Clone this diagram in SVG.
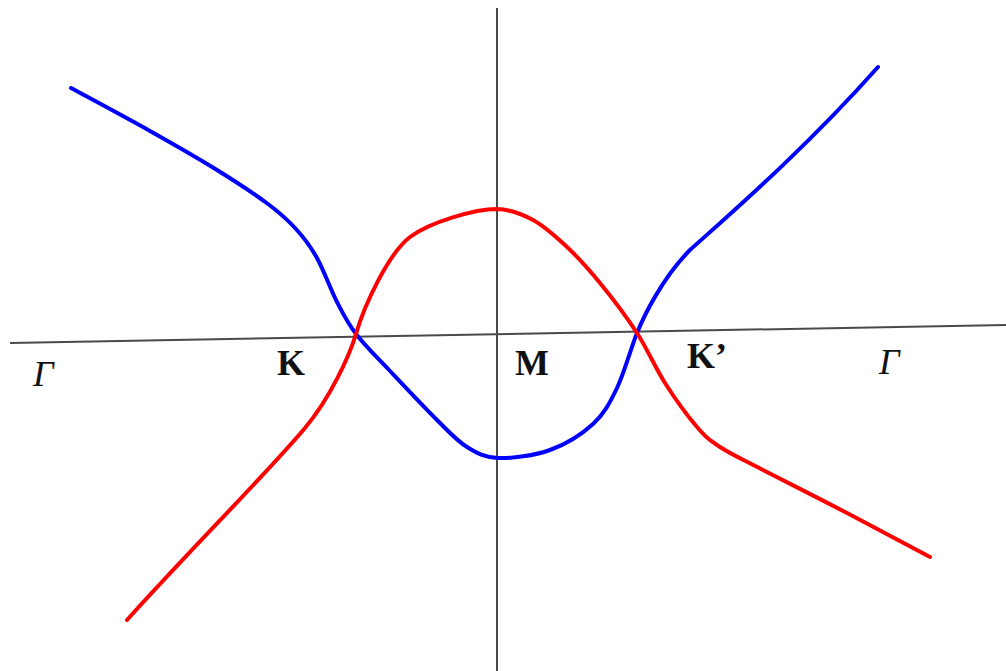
<svg xmlns="http://www.w3.org/2000/svg" width="1006" height="671" viewBox="0 0 1006 671">
<style>
.axis{stroke:#4a4a4a;stroke-width:2;fill:none}
.band{fill:none;stroke-width:4;stroke-linecap:round;stroke-linejoin:round}
.blue{stroke:#0000ff}
.red{stroke:#ff0000}
.lbl{font-family:"Liberation Serif","Times New Roman",serif;font-size:36px;fill:#111}
.b{font-weight:bold}
.i{font-style:italic}
</style>
<rect width="1006" height="671" fill="#ffffff"/>
<g id="axes">
<line class="axis" x1="10" y1="343" x2="1006" y2="325"/>
<line class="axis" x1="497" y1="8" x2="497" y2="671"/>
</g>
<g id="bands">
<path id="band-blue" class="band blue" d="M71,88 C84.2,95.2 125.7,117.3 150,131 C174.3,144.7 197.3,157.8 217,170 C236.7,182.2 254.8,194.2 268,204 C281.2,213.8 287.8,220 296,229 C304.2,238 310.2,245.8 317,258 C323.8,270.2 330.5,289.3 337,302 C343.5,314.7 347.2,322.5 356,334 C364.8,345.5 376.5,356.7 390,371 C403.5,385.3 424.2,407.3 437,420 C449.8,432.7 456.8,440.7 467,447 C477.2,453.3 484.2,457.5 498,458 C511.8,458.5 534.2,455.7 550,450 C565.8,444.3 581.8,434.3 593,424 C604.2,413.7 609.7,403.2 617,388 C624.3,372.8 630.7,348.8 637,333 C643,318 662,278 690,250 C715,227 800,155 878,67"/>
<path id="band-red" class="band red" d="M127,620 C190,550 270,470 305,428 C330,398 349,357 356,334 C364,306 388,254 410,237 C430,222 475,209 497,209 C510.8,209.5 521.3,213.7 533,220 C544.7,226.3 555.8,236.5 567,247 C578.2,257.5 588.3,268.7 600,283 C611.7,297.3 626.2,316.3 637,333 C647.8,349.7 655,367.3 665,383 C675,398.7 687.8,416.3 697,427 C706.2,437.7 709,439.8 720,447 C731,454.2 741.8,459 763,470 C784.2,481 819.2,498.5 847,513 C874.8,527.5 916.2,549.7 930,557"/>
</g>
<g id="labels">
<text id="label-gamma-left" class="lbl i" x="33" y="386">Γ</text>
<text id="label-K" class="lbl b" x="277" y="375">K</text>
<text id="label-M" class="lbl b" x="515" y="375">M</text>
<text id="label-Kp" class="lbl b" x="687" y="368">K’</text>
<text id="label-gamma-right" class="lbl i" x="879" y="374">Γ</text>
</g>
</svg>
